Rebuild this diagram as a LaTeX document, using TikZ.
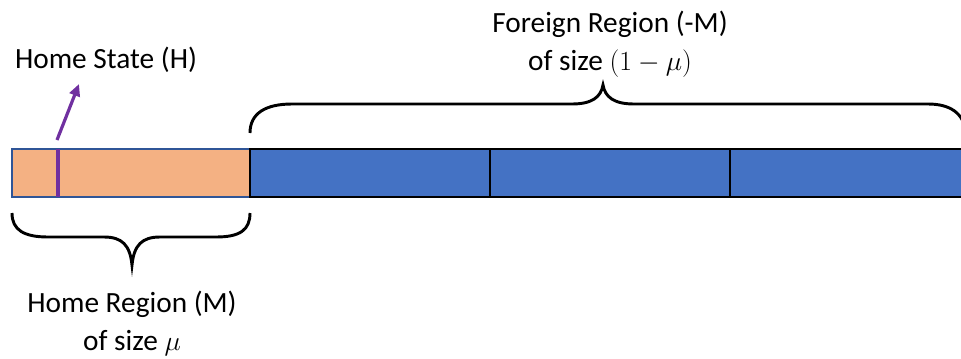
\documentclass[tikz,border=0pt]{standalone}
\usepackage{fontspec}
\setmainfont{Carlito}
\usetikzlibrary{arrows.meta}
\definecolor{homefill}{HTML}{F4B183}
\definecolor{homeedge}{HTML}{2F5597}
\definecolor{forfill}{HTML}{4472C4}
\definecolor{hpurple}{HTML}{7030A0}
\tikzset{
  homebox/.style={draw=homeedge, line width=1.3pt, fill=homefill, minimum width=178.5pt, minimum height=36pt, inner sep=0pt, outer sep=0pt, anchor=north west},
  forbox/.style={draw=black, line width=1.6pt, fill=forfill, minimum width=180pt, minimum height=36pt, inner sep=0pt, outer sep=0pt, anchor=north west},
  bracestyle/.style={draw=black, line width=2.2pt},
  lbl/.style={font=\fontsize{22}{28.5}\selectfont, align=center, inner sep=0pt},
  purplearrow/.style={draw=hpurple, line width=2.4pt, -{Triangle[length=9pt,width=8pt]}},
}
\begin{document}
\begin{tikzpicture}[x=0.75pt, y=-0.75pt]
\useasboundingbox (0,0) rectangle (961,358);
\clip (0,0) rectangle (961,358);
% bar
\node[homebox] (home) at (12,149) {};
\node[forbox] (f1) at (250,149) {};
\node[forbox] (f2) at (490,149) {};
\node[forbox] (f3) at (730,149) {};
% home state marker
\coordinate (hs) at (58,149);
\coordinate (hsb) at (58,197);
\draw[draw=hpurple, line width=3pt] (hs) -- (hsb);
\coordinate (astart) at (57,140);
\coordinate (aend) at (79,84);
\draw[purplearrow] (astart) -- (aend);
% labels
\node[lbl] (hslabel) at (106,60) {Home State (H)};
\node[lbl] (forlabel) at (610,44) {Foreign Region (-M)\\of size $(1-\mu)$};
\node[lbl] (homelabel) at (132,323) {Home Region (M)\\of size $\mu$};
% top brace
\draw[bracestyle] (250,133) .. controls (250,113) and (266,104) .. (292,104)
  -- (572,104) .. controls (592,104) and (601,97) .. (603,85)
  .. controls (605,97) and (614,104) .. (634,104)
  -- (928,104) .. controls (950,104) and (964,113) .. (966,133);
% bottom brace
\draw[bracestyle] (12,213) .. controls (12,230) and (24,237) .. (48,237)
  -- (104,237) .. controls (122,237) and (130,245) .. (132,265)
  .. controls (134,245) and (142,237) .. (160,237)
  -- (216,237) .. controls (240,237) and (250,230) .. (250,213);
\end{tikzpicture}
\end{document}
